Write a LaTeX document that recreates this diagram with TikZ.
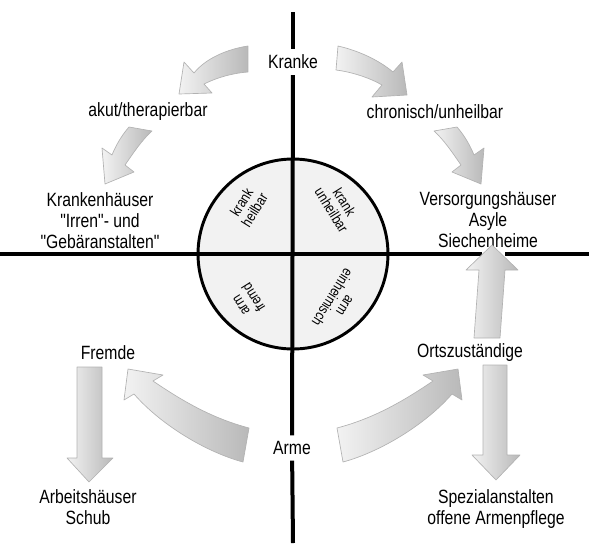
\documentclass[tikz,border=0pt]{standalone}
\usepackage{fontspec}
\setmainfont[FakeStretch=0.82,Ligatures=TeXOff]{Liberation Sans}

\tikzset{
  axisline/.style={line width=3pt},
  lbl/.style={font=\fontsize{14.4}{15.8}\selectfont,align=center,inner sep=0pt},
  onaxis/.style={lbl,outer sep=4.5pt},
  quad/.style={font=\fontsize{11}{11.4}\selectfont,align=center,inner sep=0pt},
  fatarrow/.style={draw=gray!60,line width=0.5pt,line join=round,left color=gray!10,right color=gray!55},
}

\begin{document}
\begin{tikzpicture}[x=0.75pt,y=-0.75pt]
\useasboundingbox (0,0) rectangle (589,543);
\filldraw[line width=2.2pt,fill=gray!10] (293,254) circle[radius=95];

\node[onaxis] (kranke) at (293,62) {Kranke};
\node[onaxis] (arme) at (292,448) {Arme};
\coordinate (top) at (293,12);
\coordinate (bottom) at (293,543);
\coordinate (west) at (0,254);
\coordinate (east) at (589,254);
\coordinate (gapl) at (482,254);
\coordinate (gapr) at (505,254);
\draw[axisline] (top) -- (kranke);
\draw[axisline] (kranke) -- (arme);
\draw[axisline] (arme) -- (bottom);
\draw[axisline] (west) -- (gapl);
\draw[axisline] (gapr) -- (east);

\node[quad,rotate=58] (kh) at (248,206) {krank\\heilbar};
\node[quad,rotate=-58] (ku) at (338,206) {krank\\unheilbar};
\node[quad,rotate=122] (af) at (248,301) {arm\\fremd};
\node[quad,rotate=-122] (ae) at (338,301) {arm\\einheimisch};

\node[lbl] (akut) at (148,112) {akut/therapierbar};
\node[lbl] (chron) at (435,112) {chronisch/unheilbar};
\node[lbl] (khaus) at (100,221) {Krankenh\"auser\\"Irren"- und\\"Geb\"aranstalten"};
\node[lbl] (vhaus) at (488,220) {Versorgungsh\"auser\\Asyle\\Siechenheime};
\node[lbl] (fremde) at (108,353) {Fremde};
\node[lbl] (orts) at (470,353) {Ortszust\"andige};
\node[lbl] (ahaus) at (88,507) {Arbeitsh\"auser\\Schub};
\node[lbl] (spez) at (496,509) {Spezialanstalten\\offene Armenpflege};

\draw[fatarrow] (248,46) .. controls (228,49) and (206,58) .. (194,73) -- (184,62) -- (179,94)
  -- (212,93) -- (204,84) .. controls (218,77) and (234,73) .. (248,72) -- cycle;
\draw[fatarrow] (338,46) .. controls (360,51) and (380,61) .. (393,72) -- (402,62) -- (407,95)
  -- (372,97) -- (382,85) .. controls (370,78) and (352,72) .. (336,70) -- cycle;
\draw[fatarrow] (152,131) -- (129,127) .. controls (122,135) and (116,145) .. (112,155) -- (102,148)
  -- (105,184) -- (134,172) -- (125,165) .. controls (134,152) and (142,140) .. (152,131) -- cycle;
\draw[fatarrow] (434,131) -- (457,127) .. controls (464,135) and (470,145) .. (474,155) -- (484,148)
  -- (481,184) -- (452,172) -- (461,165) .. controls (452,152) and (444,140) .. (434,131) -- cycle;
\draw[fatarrow] (474,338) -- (479,270) -- (466,270) -- (492,245) -- (518,270) -- (505,270)
  -- (500,338) -- cycle;
\draw[fatarrow] (483,365) -- (483,455) -- (472,455) -- (496,480) -- (520,455) -- (507,455)
  -- (507,365) -- cycle;
\draw[fatarrow] (77,367) -- (77,458) -- (67,458) -- (89,482) -- (113,458) -- (102,458)
  -- (102,367) -- cycle;
\draw[fatarrow] (343,462) .. controls (380,452) and (425,425) .. (452,394) -- (462,400) -- (458,369)
  -- (423,375) -- (433,381) .. controls (405,400) and (375,418) .. (337,428) -- cycle;
\draw[fatarrow] (243,462) .. controls (206,452) and (161,425) .. (134,394) -- (124,400) -- (128,369)
  -- (163,375) -- (153,381) .. controls (181,400) and (211,418) .. (249,428) -- cycle;
\end{tikzpicture}
\end{document}
